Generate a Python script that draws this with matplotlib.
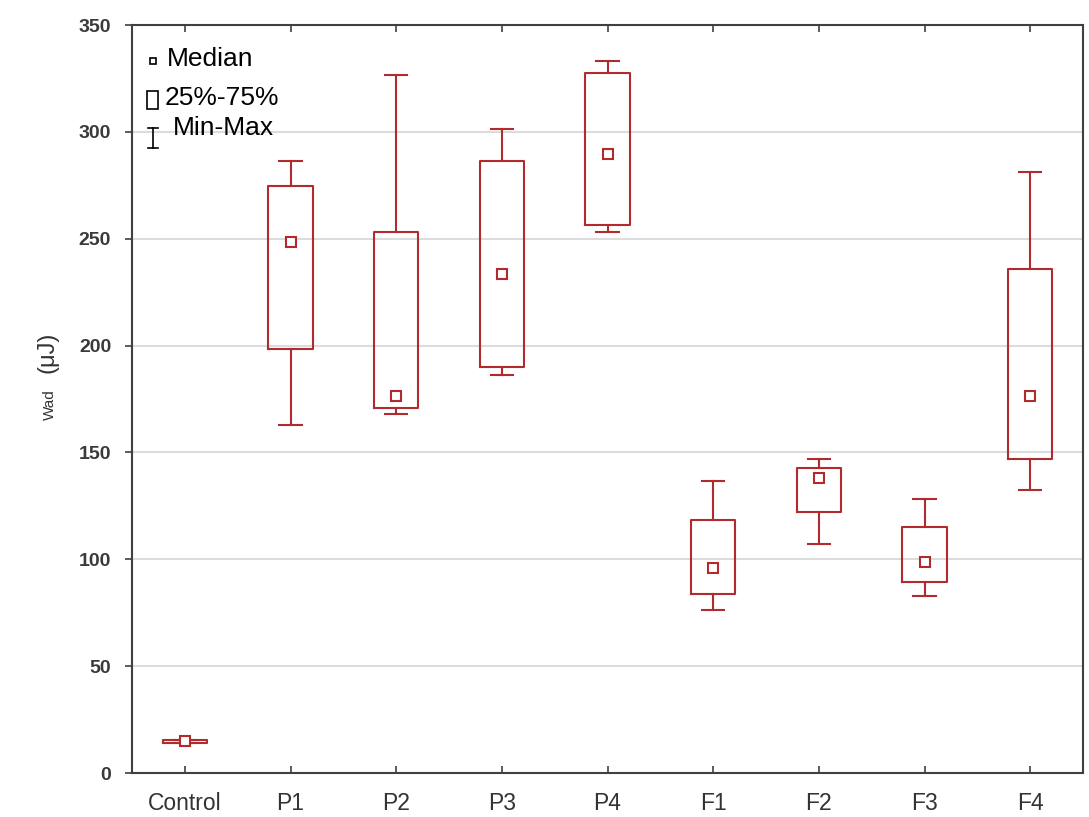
import matplotlib
matplotlib.use('Agg')
import matplotlib.pyplot as plt
from matplotlib.lines import Line2D
from matplotlib.patches import Rectangle

plt.rcParams['font.family'] = ['Liberation Sans', 'DejaVu Sans']

# data (Wad, microjoules)
groups = ['Control', 'P1', 'P2', 'P3', 'P4', 'F1', 'F2', 'F3', 'F4']
mins = [14.0, 162.8, 168.0, 186.2, 253.2, 76.3, 107.2, 82.8, 132.4]
q1s = [13.9, 198.4, 170.8, 190.0, 256.4, 83.8, 122.1, 89.4, 146.9]
medians = [14.8, 248.5, 176.4, 233.5, 289.7, 95.9, 138.0, 98.7, 176.4]
q3s = [15.3, 274.7, 253.2, 286.4, 327.6, 118.4, 142.7, 115.1, 235.8]
maxs = [15.6, 286.4, 326.6, 301.4, 333.2, 136.6, 146.9, 128.2, 281.2]

red = '#b02a2e'
grey = '#404040'

fig = plt.figure(figsize=(10.89, 8.17), dpi=100)
ax = fig.add_axes([132 / 1089, 1 - 773 / 817, 951 / 1089, 748 / 817])

stats = []
for name, lo, a, m, b, hi in zip(groups, mins, q1s, medians, q3s, maxs):
    stats.append({'label': name, 'whislo': lo, 'q1': a, 'med': m, 'q3': b, 'whishi': hi})

pos = list(range(len(groups)))
ax.bxp(stats, positions=pos, widths=0.42, showfliers=False, patch_artist=False,
       boxprops=dict(color=red, linewidth=1.5),
       whiskerprops=dict(color=red, linewidth=1.5),
       capprops=dict(color=red, linewidth=1.5),
       medianprops=dict(linewidth=0))
ax.plot(pos, medians, 's', mfc='white', mec=red, mew=1.5, ms=6.5, ls='none', zorder=5)

ax.set_xlim(-0.5, 8.5)
ax.set_ylim(0, 350)
ax.set_yticks(range(0, 351, 50))
ax.set_xticks(pos)
ax.set_xticklabels(groups, fontsize=16.5, color='#333333', fontweight='medium')
for lab in ax.get_yticklabels():
    lab.set_fontsize(14)
    lab.set_fontweight('bold')
    lab.set_color('#3a3a3a')
ax.yaxis.grid(True, color='#dcdcdc', linewidth=1.5)
ax.set_axisbelow(True)
for s in ax.spines.values():
    s.set_color(grey)
    s.set_linewidth(1.5)
ax.tick_params(axis='x', direction='in', top=True, length=5, width=1.2, color=grey, pad=14)
ax.tick_params(axis='y', direction='out', length=5, width=1.2, color=grey, pad=10)

# y label: small "Wad" plus larger "(μJ)"
fig.text(50 / 1089, 1 - 405 / 817, 'Wad', rotation=90, fontsize=11, color='#333333',
         ha='center', va='center')
fig.text(48 / 1089, 1 - 352 / 817, '(μJ)', rotation=90, fontsize=17, color='#333333',
         ha='center', va='center')

# hand-made legend in the upper-left corner
tr = ax.transAxes
ax.add_line(Line2D([0.0221], [0.952], marker='s', mfc='white', mec='black', mew=1.2,
                   ms=5, transform=tr))
ax.add_patch(Rectangle((0.0158, 0.888), 0.0115, 0.024, fill=False, ec='black',
                       lw=1.2, transform=tr))
ax.add_line(Line2D([0.0221, 0.0221], [0.836, 0.862], color='black', lw=1.2, transform=tr))
ax.add_line(Line2D([0.0168, 0.0274], [0.862, 0.862], color='black', lw=1.2, transform=tr))
ax.add_line(Line2D([0.0168, 0.0274], [0.836, 0.836], color='black', lw=1.2, transform=tr))
ax.text(0.0368, 0.955, 'Median', fontsize=19, va='center', ha='left', transform=tr)
ax.text(0.0347, 0.902, '25%-75%', fontsize=19, va='center', ha='left', transform=tr)
ax.text(0.0431, 0.862, 'Min-Max', fontsize=19, va='center', ha='left', transform=tr)

fig.savefig('out.png', dpi=100)
